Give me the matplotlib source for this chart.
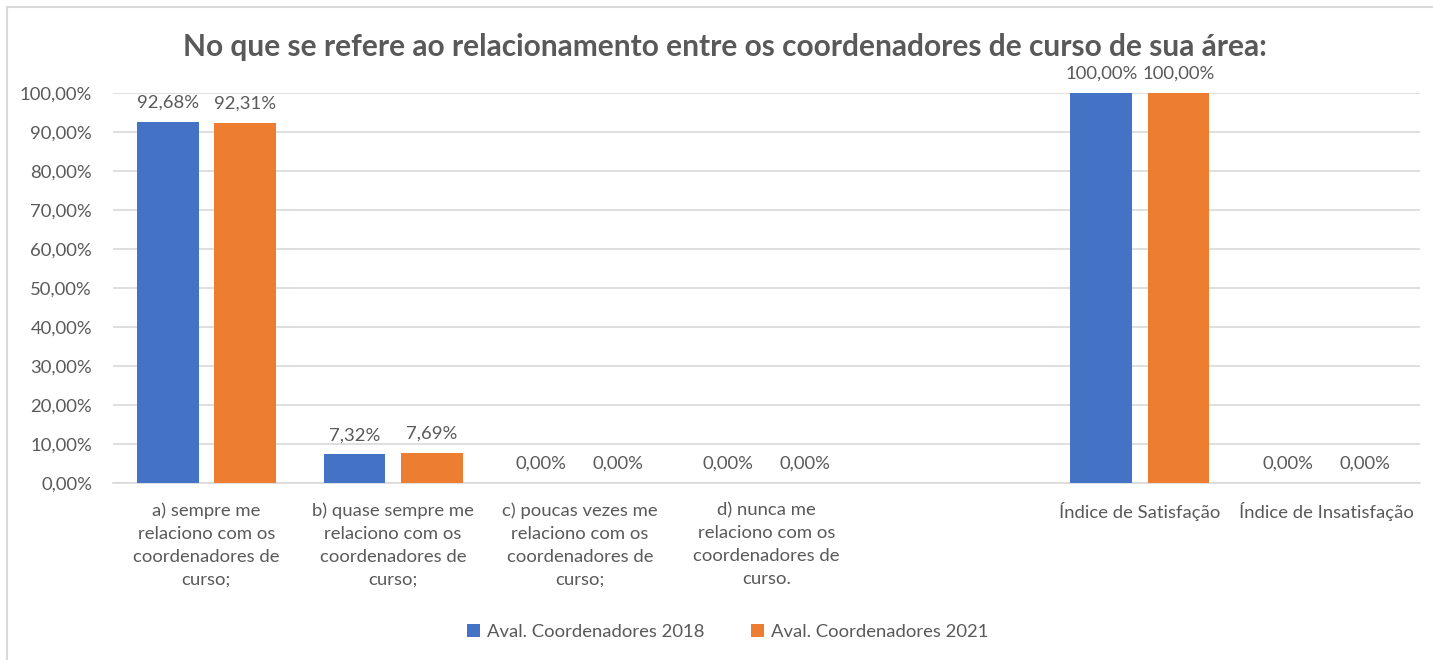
import matplotlib
matplotlib.use("Agg")
import matplotlib.pyplot as plt
import numpy as np
from matplotlib.patches import Patch
from matplotlib.lines import Line2D

categories = [
    "a) sempre me\nrelaciono com os\ncoordenadores de\ncurso;",
    "b) quase sempre me\nrelaciono com os\ncoordenadores de\ncurso;",
    "c) poucas vezes me\nrelaciono com os\ncoordenadores de\ncurso;",
    "d) nunca me\nrelaciono com os\ncoordenadores de\ncurso.",
    "",
    "Índice de Satisfação",
    "Índice de Insatisfação",
]
series_names = ["Aval. Coordenadores 2018", "Aval. Coordenadores 2021"]
vals_2018 = [0.9268, 0.0732, 0.0, 0.0, None, 1.0, 0.0]
vals_2021 = [0.9231, 0.0769, 0.0, 0.0, None, 1.0, 0.0]
yticks = [0.0, 0.1, 0.2, 0.3, 0.4, 0.5, 0.6, 0.7, 0.8, 0.9, 1.0]
title = "No que se refere ao relacionamento entre os coordenadores de curso de sua área:"

colors = ["#4472C4", "#ED7D31"]
txt = "#595959"
grid = "#D9D9D9"
plt.rcParams['font.family'] = ['Lato', 'DejaVu Sans']
FS = 13.3

def fmt(v):
    return f"{v*100:.2f}%".replace(".", ",")

fig = plt.figure(figsize=(14.33, 6.6), dpi=100)
ax = fig.add_axes([113/1433, 1-483/660, (1420-113)/1433, (483-93)/660])

x = np.arange(len(categories))
w = 0.33
off = 0.207
for i, (vals, c, name) in enumerate(zip([vals_2018, vals_2021], colors, series_names)):
    xs = [xi for xi, v in zip(x, vals) if v is not None]
    vs = [v for v in vals if v is not None]
    pos = np.array(xs) + (-off if i == 0 else off)
    ax.bar(pos, vs, width=w, color=c, label=name, zorder=3)
    for p, v in zip(pos, vs):
        ax.annotate(fmt(v), (p, v), xytext=(0, 8), textcoords="offset points",
                    ha="center", va="bottom", fontsize=FS, color=txt,
                    annotation_clip=False)

ax.set_xlim(-0.5, len(categories) - 0.5)
ax.set_ylim(0, 1.0)
ax.set_yticks(yticks)
ax.set_yticklabels([fmt(v) for v in yticks], fontsize=FS, color=txt)
ax.set_xticks(x)
ax.set_xticklabels(categories, fontsize=FS, color=txt, linespacing=1.52)
ax.tick_params(axis="both", length=0)
ax.tick_params(axis="x", pad=14)
ax.tick_params(axis="y", pad=15)
for s in ["top", "right", "left"]:
    ax.spines[s].set_visible(False)
ax.spines["bottom"].set_color(grid)
ax.spines["bottom"].set_linewidth(1.2)
ax.yaxis.grid(True, color=grid, linewidth=1.2, zorder=0)
ax.set_axisbelow(True)

fig.text(0.506, 1-47/660, title, ha="center", va="center", fontsize=21.5,
         fontweight="bold", color=txt)

handles = [Patch(facecolor=c, label=n) for c, n in zip(colors, series_names)]
fig.legend(handles=handles, loc="center", bbox_to_anchor=(0.508, 1-632/660),
           ncol=2, frameon=False, fontsize=FS, labelcolor=txt,
           handlelength=0.7, handleheight=0.7, handletextpad=0.4, columnspacing=2.5)

fig.add_artist(Line2D([7/1433, 7/1433], [0, 1-7/660], transform=fig.transFigure, color="#D9D9D9", lw=1.5))
fig.add_artist(Line2D([7/1433, 1], [1-7/660, 1-7/660], transform=fig.transFigure, color="#D9D9D9", lw=1.5))

fig.savefig("out.png", dpi=100, facecolor="white")
